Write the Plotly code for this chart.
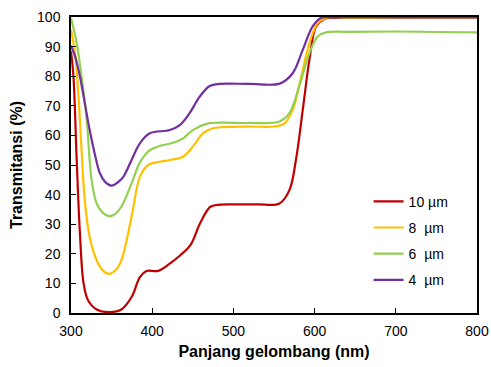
import plotly.graph_objects as go

# Wavelength (nm) and transmittance (%) per film thickness
wl_10 = [300, 303, 307, 311, 315.5, 321, 331.6, 348, 362, 374.6, 385, 393, 407, 421.6, 434.6, 447, 459, 471.7, 484, 500, 530, 556.8, 569, 577, 585.4, 593.6, 601.8, 612, 622, 650, 700, 800]
tr_10 = [88.4, 80, 51.7, 26.9, 10, 4.3, 1.2, 0.3, 1.2, 5.4, 12.2, 14.2, 14.2, 16.7, 19.5, 22.9, 30.3, 35.9, 36.6, 36.7, 36.7, 37, 41.5, 51.7, 68.6, 85.5, 96.8, 99.3, 99.7, 99.8, 99.8, 99.8]

wl_8 = [300, 305, 309, 313, 317, 323, 331.6, 339, 347, 355, 362, 374.6, 384.8, 395, 409, 421.6, 438, 450, 462.5, 474.8, 487, 520, 550, 563, 573, 583.5, 593.6, 603.8, 614, 640, 700, 800]
tr_8 = [95.7, 87.8, 74.3, 55, 38, 25.7, 17.8, 14.4, 13.2, 14.5, 17.8, 32.5, 46, 50, 51.1, 51.7, 52.8, 56.2, 60.7, 62.4, 62.8, 63, 63, 64.1, 68.6, 79.9, 91.2, 98, 99.7, 99.8, 99.8, 99.8]

wl_6 = [300, 307, 313, 319, 325.4, 331.6, 339, 347, 355, 362, 374.6, 384.8, 397, 409, 425.7, 438, 450, 466.7, 483, 520, 556.8, 569, 581, 593.6, 603.8, 614, 640, 700, 800]
tr_6 = [99.7, 91.2, 79.9, 66.3, 45, 37, 33.9, 32.7, 33.6, 35.9, 43.8, 50.8, 55, 56.4, 57.5, 59, 61.8, 63.9, 64.3, 64.2, 64.7, 67.5, 76.5, 87.8, 93.4, 94.8, 95, 95.1, 94.8]

wl_4 = [300, 305, 311, 317, 323, 329.5, 335.6, 342, 350, 357, 364, 374.6, 384.8, 397, 421.6, 434, 446, 458.5, 470.8, 483, 520, 557, 573, 585.4, 597.6, 607.9, 620, 700, 800]
tr_4 = [90.3, 86.7, 79.9, 70.9, 61.8, 53.5, 47.2, 44.3, 43, 44, 45.8, 51.7, 57.3, 60.7, 61.8, 63.5, 67.5, 73.1, 76.7, 77.4, 77.4, 77.5, 81, 88.9, 96.8, 99.7, 99.9, 99.9, 99.9]

labels = ["10 µm", "8  µm", "6  µm", "4  µm"]
colors = ["#C00000", "#FFC000", "#92D050", "#7030A0"]
series = [(wl_10, tr_10), (wl_8, tr_8), (wl_6, tr_6), (wl_4, tr_4)]

x_ticks = [300, 400, 500, 600, 700, 800]
y_ticks = [0, 10, 20, 30, 40, 50, 60, 70, 80, 90, 100]

FONT = "Liberation Sans, Arial"

fig = go.Figure()
for i, ((x, y), name, c) in enumerate(zip(series, labels, colors)):
    fig.add_trace(go.Scatter(
        x=x, y=y, mode="lines", name=name, legendgroup=str(i),
        line=dict(color=c, width=2.2, shape="spline", smoothing=1.0),
    ))

axis_common = dict(
    showgrid=False, zeroline=False, showline=True, linecolor="black",
    linewidth=1.5, mirror=True, ticks="inside", ticklen=5, tickcolor="black",
    automargin=False,
    tickfont=dict(family=FONT, size=14, color="black"),
)
fig.update_xaxes(range=[300, 800], tickvals=x_ticks, ticklabelstandoff=4,
                 title=dict(text="<b>Panjang gelombang (nm)</b>", standoff=8,
                            font=dict(family=FONT, size=16, color="black")),
                 **axis_common)
fig.update_yaxes(range=[0, 100], tickvals=y_ticks, ticklabelstandoff=6,
                 title=dict(text="<b>Transmitansi (%)</b>", standoff=10,
                            font=dict(family=FONT, size=16, color="black")),
                 **axis_common)

fig.update_layout(
    width=491, height=367,
    margin=dict(l=71, r=14, t=17, b=54),
    plot_bgcolor="white", paper_bgcolor="white",
    legend=dict(x=0.733, y=0.43, xanchor="left", yanchor="top",
                bgcolor="rgba(0,0,0,0)", tracegroupgap=5,
                font=dict(family=FONT, size=14, color="black")),
)

fig.write_html("out.html", config={"displayModeBar": False},
               post_script="document.body.style.margin='0';document.body.style.padding='0';")
